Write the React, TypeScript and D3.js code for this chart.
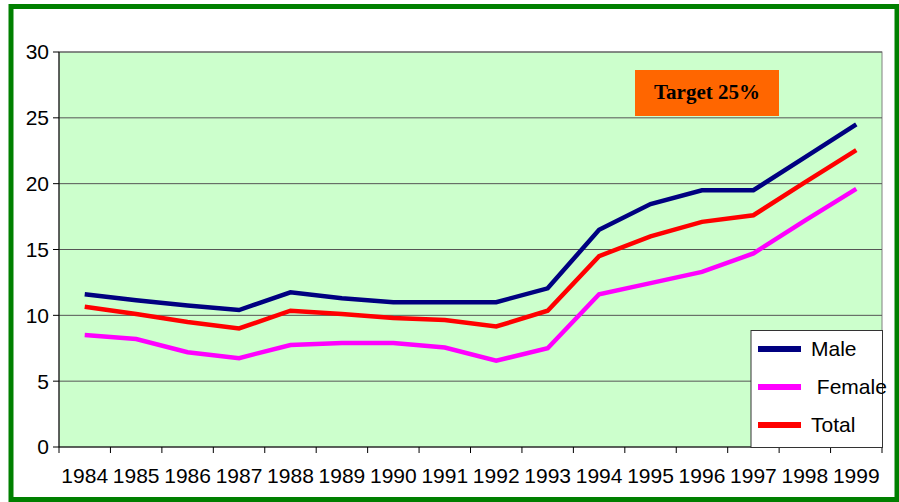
import React from 'react';
import * as d3 from 'd3';

const years = ['1984', '1985', '1986', '1987', '1988', '1989', '1990', '1991', '1992', '1993', '1994', '1995', '1996', '1997', '1998', '1999'];
const male = [11.6, 11.15, 10.75, 10.4, 11.75, 11.3, 11.0, 11.0, 11.0, 12.05, 16.5, 18.45, 19.5, 19.5, 22.0, 24.5];
const female = [8.5, 8.2, 7.2, 6.75, 7.75, 7.9, 7.9, 7.55, 6.55, 7.5, 11.6, 12.45, 13.3, 14.7, 17.2, 19.6];
const total = [10.65, 10.1, 9.5, 9.0, 10.35, 10.1, 9.8, 9.65, 9.15, 10.35, 14.5, 16.0, 17.1, 17.6, 20.1, 22.55];
const yTicks = [0, 5, 10, 15, 20, 25, 30];
const seriesNames = ['Male', ' Female', 'Total'];
const seriesColors = ['#000080', '#ff00ff', '#ff0000'];

const width = 899;
const height = 502;
const plot = { left: 59, right: 882, top: 52, bottom: 447 };

const App = () => {
  const x = d3.scaleBand<string>().domain(years).range([plot.left, plot.right]);
  const y = d3.scaleLinear().domain([0, 30]).range([plot.bottom, plot.top]);
  const half = x.bandwidth() / 2;

  const line = d3.line<number>()
    .x((_, i) => (x(years[i]) as number) + half)
    .y(d => y(d));

  const series = [male, female, total];
  const font = '"Liberation Sans", Arial, sans-serif';

  // tick positions on band edges
  const edges = years.map(yr => x(yr) as number).concat([plot.right]);

  return (
    <svg width={width} height={height} style={{ position: 'absolute', left: 0, top: 0 }}>
      <rect x={0} y={0} width={width} height={height} fill="#ffffff" />
      <rect x={11} y={6.5} width={886} height={493} fill="#ffffff" stroke="#008000" strokeWidth={5} />

      {/* plot area */}
      <rect x={plot.left} y={plot.top} width={plot.right - plot.left} height={plot.bottom - plot.top}
        fill="#ccffcc" stroke="#808080" strokeWidth={1} />

      {yTicks.map(t => (
        <g key={t}>
          {t > 0 && (
            <line x1={plot.left} x2={plot.right} y1={y(t)} y2={y(t)} stroke="#555555" strokeWidth={1} />
          )}
          <line x1={plot.left - 6} x2={plot.left} y1={y(t)} y2={y(t)} stroke="#000" strokeWidth={1} />
          <text x={plot.left - 10} y={y(t)} dy="0.35em" textAnchor="end" fontFamily={font} fontSize={21} fill="#000">
            {t}
          </text>
        </g>
      ))}

      {/* axes */}
      <line x1={plot.left} x2={plot.left} y1={plot.top} y2={plot.bottom} stroke="#000" strokeWidth={1} />
      <line x1={plot.left} x2={plot.right} y1={plot.bottom} y2={plot.bottom} stroke="#000" strokeWidth={1} />
      {edges.map((ex, i) => (
        <line key={i} x1={ex} x2={ex} y1={plot.bottom} y2={plot.bottom + 6} stroke="#000" strokeWidth={1} />
      ))}
      {years.map(yr => (
        <text key={yr} x={(x(yr) as number) + half} y={483} textAnchor="middle" fontFamily={font} fontSize={21} fill="#000">
          {yr}
        </text>
      ))}

      {/* lines */}
      {series.map((s, i) => (
        <path key={i} d={line(s) as string} fill="none" stroke={seriesColors[i]} strokeWidth={4.5} strokeLinejoin="miter" />
      ))}

      {/* target box */}
      <rect x={635} y={70} width={144} height={46} fill="#ff6600" />
      <text x={707} y={92} dy="0.35em" textAnchor="middle" fontFamily='"Liberation Serif", "Times New Roman", serif'
        fontWeight="bold" fontSize={21} fill="#000">
        Target 25%
      </text>

      {/* legend */}
      <rect x={751} y={330.5} width={131.5} height={117} fill="#ffffff" stroke="#333333" strokeWidth={1} />
      {seriesNames.map((n, i) => (
        <g key={n}>
          <line x1={758} x2={801} y1={349 + i * 38} y2={349 + i * 38} stroke={seriesColors[i]} strokeWidth={6} />
          <text x={811} y={349 + i * 38} dy="0.35em" fontFamily={font} fontSize={21} fill="#000" style={{ whiteSpace: 'pre' }}>
            {n}
          </text>
        </g>
      ))}
    </svg>
  );
};

export default App;
